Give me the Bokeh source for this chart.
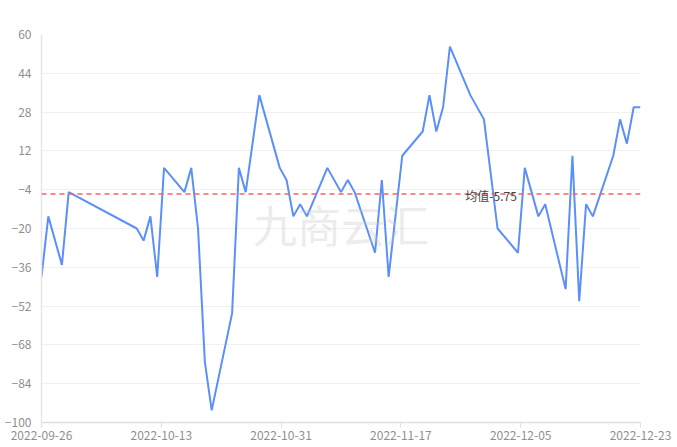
from datetime import datetime, timedelta
from bokeh.plotting import figure
from bokeh.models import (ColumnDataSource, Range1d, FixedTicker, DatetimeTickFormatter,
                          Span, Label)
from bokeh.embed import file_html
from bokeh.resources import INLINE

dates = ["2022-09-26", "2022-09-27", "2022-09-29", "2022-09-30", "2022-10-10", "2022-10-11",
         "2022-10-12", "2022-10-13", "2022-10-14", "2022-10-17", "2022-10-18", "2022-10-19",
         "2022-10-20", "2022-10-21", "2022-10-24", "2022-10-25", "2022-10-26", "2022-10-28",
         "2022-10-31", "2022-11-01", "2022-11-02", "2022-11-03", "2022-11-04", "2022-11-07",
         "2022-11-09", "2022-11-10", "2022-11-11", "2022-11-14", "2022-11-15", "2022-11-16",
         "2022-11-18", "2022-11-21", "2022-11-22", "2022-11-23", "2022-11-24", "2022-11-25",
         "2022-11-28", "2022-11-30", "2022-12-02", "2022-12-05", "2022-12-06", "2022-12-08",
         "2022-12-09", "2022-12-12", "2022-12-13", "2022-12-14", "2022-12-15", "2022-12-16",
         "2022-12-19", "2022-12-20", "2022-12-21", "2022-12-22", "2022-12-23"]
values = [-40, -15, -35, -5, -20, -25,
          -15, -40, 5, -5, 5, -20,
          -75, -95, -55, 5, -5, 35,
          5, 0, -15, -10, -15, 5,
          -5, 0, -5, -30, 0, -40,
          10, 20, 35, 20, 30, 55,
          35, 25, -20, -30, 5, -15,
          -10, -45, 10, -50, -10, -15,
          10, 25, 15, 30, 30]
MEAN = -5.75
mean_label = "均值-5.75"
watermark = "九商云汇"
y_ticks = [-100, -84, -68, -52, -36, -20, -4, 12, 28, 44, 60]
x_start = "2022-09-26"
x_end = "2022-12-23"
x_splits = 5

FONT = "Noto Sans CJK SC"

xs = [datetime.strptime(d, "%Y-%m-%d") for d in dates]
src = ColumnDataSource(dict(x=xs, y=values))

t0 = datetime.strptime(x_start, "%Y-%m-%d")
t1 = datetime.strptime(x_end, "%Y-%m-%d")
epoch = datetime(1970, 1, 1)
ms0 = (t0 - epoch).total_seconds() * 1000
ms1 = (t1 - epoch).total_seconds() * 1000
x_tick_ms = [ms0 + (ms1 - ms0) * i / x_splits for i in range(x_splits + 1)]

p = figure(width=677, height=447, output_backend="svg", toolbar_location=None,
           x_axis_type="datetime",
           x_range=Range1d(t0, t1), y_range=Range1d(-100, 60),
           min_border_left=41, min_border_right=37, min_border_top=34, min_border_bottom=25)
p.outline_line_color = None
p.background_fill_color = "white"
p.border_fill_color = "white"

p.xgrid.grid_line_color = None
p.ygrid.grid_line_color = "#f0f0f0"
p.ygrid.grid_line_width = 1

p.yaxis.ticker = FixedTicker(ticks=y_ticks)
p.yaxis.axis_line_color = "#e6e6e6"
p.yaxis.axis_line_width = 1.5
p.yaxis.major_tick_line_color = None
p.yaxis.minor_tick_line_color = None
p.yaxis.major_tick_out = 0
p.yaxis.major_tick_in = 0
p.yaxis.minor_tick_out = 0
p.yaxis.minor_tick_in = 0
p.yaxis.major_label_standoff = 10
p.yaxis.major_label_text_font = FONT
p.yaxis.major_label_text_font_size = "12px"
p.yaxis.major_label_text_color = "#8f8f8f"

p.xaxis.ticker = FixedTicker(ticks=x_tick_ms)
fmt = "%Y-%m-%d"
p.xaxis.formatter = DatetimeTickFormatter(
    microseconds=fmt, milliseconds=fmt, seconds=fmt, minsec=fmt, minutes=fmt,
    hourmin=fmt, hours=fmt, days=fmt, months=fmt, years=fmt,
    context=None)
p.xaxis.axis_line_color = "#e0e0e0"
p.xaxis.axis_line_width = 1.5
p.xaxis.major_tick_line_color = "#e0e0e0"
p.xaxis.major_tick_in = 0
p.xaxis.major_tick_out = 5
p.xaxis.minor_tick_line_color = None
p.xaxis.minor_tick_out = 0
p.xaxis.minor_tick_in = 0
p.xaxis.major_label_standoff = 3
p.xaxis.major_label_text_font = FONT
p.xaxis.major_label_text_font_size = "12px"
p.xaxis.major_label_text_color = "#8f8f8f"

p.line("x", "y", source=src, line_color="#5B8FF9", line_width=2)

p.add_layout(Span(location=MEAN, dimension="width", line_color="#F46464",
                  line_width=1.5, line_dash="5 4"))
p.add_layout(Label(x=datetime(2022, 11, 28), y=MEAN, text=mean_label,
                   x_offset=-5, y_offset=-2, text_align="left", text_baseline="middle",
                   text_font=FONT, text_font_size="12px", text_color="#444444"))

mid = t0 + (t1 - t0) / 2
p.add_layout(Label(x=mid, y=-18, text=watermark, text_align="center",
                   text_baseline="middle", text_font=FONT, text_font_size="44px",
                   text_color="#c8c8c8", text_alpha=0.35))

open("out.html", "w").write(file_html(p, INLINE))
